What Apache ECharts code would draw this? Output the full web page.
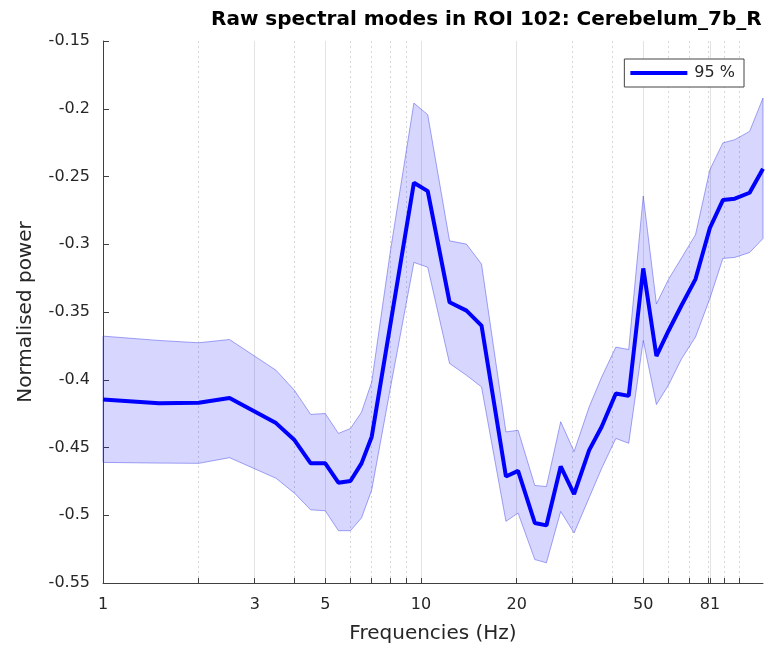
<!DOCTYPE html>
<html>
<head>
<meta charset="utf-8">
<script src="https://cdn.jsdelivr.net/npm/echarts@6/dist/echarts.min.js"></script>
<style>
html,body{margin:0;padding:0;background:#fff;}
#chart{width:767px;height:649px;}
</style>
</head>
<body>
<div id="chart"></div>
<script>
// ---- data ----
const freqs = [1, 1.5, 2, 2.5, 3.5, 4, 4.5, 5, 5.5, 6, 6.5, 7, 8, 9.5, 10.5, 12.3, 13.9, 15.5, 18.5, 20.2, 22.8, 24.8, 27.5, 30.3, 33.8, 37, 41, 45, 50, 55, 60, 66, 73, 81, 89, 97, 108, 119];
const meanPow = [-0.4145, -0.4174, -0.417, -0.4135, -0.432, -0.4445, -0.4617, -0.4617, -0.476, -0.4747, -0.4617, -0.442, -0.36, -0.2546, -0.2608, -0.3428, -0.349, -0.36, -0.4714, -0.4673, -0.5057, -0.5075, -0.464, -0.4844, -0.4519, -0.4347, -0.4102, -0.4119, -0.3178, -0.3825, -0.364, -0.345, -0.3257, -0.288, -0.2674, -0.2664, -0.262, -0.2443];
const upperPow = [-0.3678, -0.371, -0.3727, -0.3703, -0.393, -0.4078, -0.4256, -0.4249, -0.4396, -0.436, -0.424, -0.4016, -0.306, -0.1958, -0.2044, -0.2975, -0.2999, -0.3146, -0.4385, -0.4373, -0.478, -0.4788, -0.431, -0.453, -0.42, -0.398, -0.3759, -0.3777, -0.2644, -0.344, -0.326, -0.31, -0.293, -0.245, -0.2252, -0.2228, -0.2167, -0.1921];
const lowerPow = [-0.461, -0.4615, -0.4617, -0.4575, -0.4727, -0.4837, -0.496, -0.4967, -0.5114, -0.5114, -0.502, -0.4813, -0.407, -0.3134, -0.317, -0.388, -0.3967, -0.4053, -0.5045, -0.4984, -0.5327, -0.5351, -0.4972, -0.5131, -0.487, -0.4654, -0.4433, -0.4469, -0.371, -0.4183, -0.404, -0.3845, -0.3685, -0.34, -0.3105, -0.3097, -0.3061, -0.2958];
const labelTicks = [1, 3, 5, 10, 20, 50, 81];
const minorTicks = [2, 4, 6, 7, 8, 9, 30, 40, 60, 70, 80, 90, 100];
const yMin = -0.55, yMax = -0.15, yStep = 0.05;
const titleText = 'Raw spectral modes in ROI 102: Cerebelum_7b_R';
const xName = 'Frequencies (Hz)';
const yName = 'Normalised power';
const seriesName = '95 %';

// ---- chart ----
const lg = v => Math.log10(v);
const xMin = lg(freqs[0]);
const xMax = lg(freqs[freqs.length - 1]);
const FONT = 'DejaVu Sans';
const chart = echarts.init(document.getElementById('chart'));

const baseX = {
  type: 'value', min: xMin, max: xMax, position: 'bottom', gridIndex: 0
};

chart.setOption({
  animation: false,
  backgroundColor: '#fff',
  textStyle: { fontFamily: FONT },
  title: {
    text: titleText, left: 206, top: 5,
    textStyle: { fontFamily: FONT, fontWeight: 'bold', fontSize: 20, color: '#000' }
  },
  legend: {
    data: [seriesName], right: 23, top: 59,
    icon: 'rect', itemWidth: 57, itemHeight: 4, itemGap: 6,
    padding: [6, 9, 6, 6],
    borderColor: '#444', borderWidth: 1, backgroundColor: '#fff',
    textStyle: { fontFamily: FONT, fontSize: 16, color: '#262626', padding: [0, 0, 0, 2] }
  },
  grid: { left: 103, right: 4, top: 41, bottom: 64, containLabel: false },
  xAxis: [
    Object.assign({}, baseX, {
      name: xName, nameLocation: 'middle', nameGap: 41,
      nameTextStyle: { fontFamily: FONT, fontSize: 20, color: '#262626' },
      axisLine: { show: true, lineStyle: { color: '#404040', width: 1 } },
      axisTick: { show: true, inside: true, length: 5, customValues: labelTicks.map(lg), lineStyle: { color: '#404040' } },
      axisLabel: {
        show: true, margin: 14, customValues: labelTicks.map(lg),
        fontFamily: FONT, fontSize: 16, color: '#262626',
        formatter: v => String(Math.round(Math.pow(10, v)))
      },
      splitLine: { show: true, lineStyle: { color: '#e3e3e3', width: 1, type: 'solid' } }
    }),
    Object.assign({}, baseX, {
      axisLine: { show: false },
      axisTick: { show: true, inside: true, length: 5, customValues: minorTicks.map(lg), lineStyle: { color: '#404040' } },
      axisLabel: { show: false },
      splitLine: { show: true, lineStyle: { color: '#d6d6d6', width: 1, type: [2, 3] } }
    })
  ],
  yAxis: {
    type: 'value', min: yMin, max: yMax, interval: yStep,
    name: yName, nameLocation: 'middle', nameGap: 67,
    nameTextStyle: { fontFamily: FONT, fontSize: 20, color: '#262626' },
    axisLine: { show: true, lineStyle: { color: '#404040', width: 1 } },
    axisTick: { show: true, inside: true, length: 6, lineStyle: { color: '#404040' } },
    axisLabel: { margin: 13, fontFamily: FONT, fontSize: 16, color: '#262626',
      formatter: v => String(parseFloat(v.toFixed(2))) },
    splitLine: { show: false }
  },
  series: [
    {
      name: 'band', type: 'custom', xAxisIndex: 0, yAxisIndex: 0, silent: true, z: 1,
      data: [[xMin, yMin]],
      renderItem: function (params, api) {
        const pts = [];
        for (let i = 0; i < freqs.length; i++) pts.push(api.coord([lg(freqs[i]), upperPow[i]]));
        for (let i = freqs.length - 1; i >= 0; i--) pts.push(api.coord([lg(freqs[i]), lowerPow[i]]));
        return {
          type: 'polygon', shape: { points: pts },
          style: { fill: 'rgba(0,0,255,0.16)', stroke: 'rgba(60,60,230,0.45)', lineWidth: 1 }
        };
      }
    },
    {
      name: seriesName, type: 'line', xAxisIndex: 0, yAxisIndex: 0, z: 3,
      symbol: 'none', showSymbol: false,
      lineStyle: { color: '#0000ff', width: 4 },
      itemStyle: { color: '#0000ff' },
      data: freqs.map((f, i) => [lg(f), meanPow[i]])
    }
  ]
});
</script>
</body>
</html>
